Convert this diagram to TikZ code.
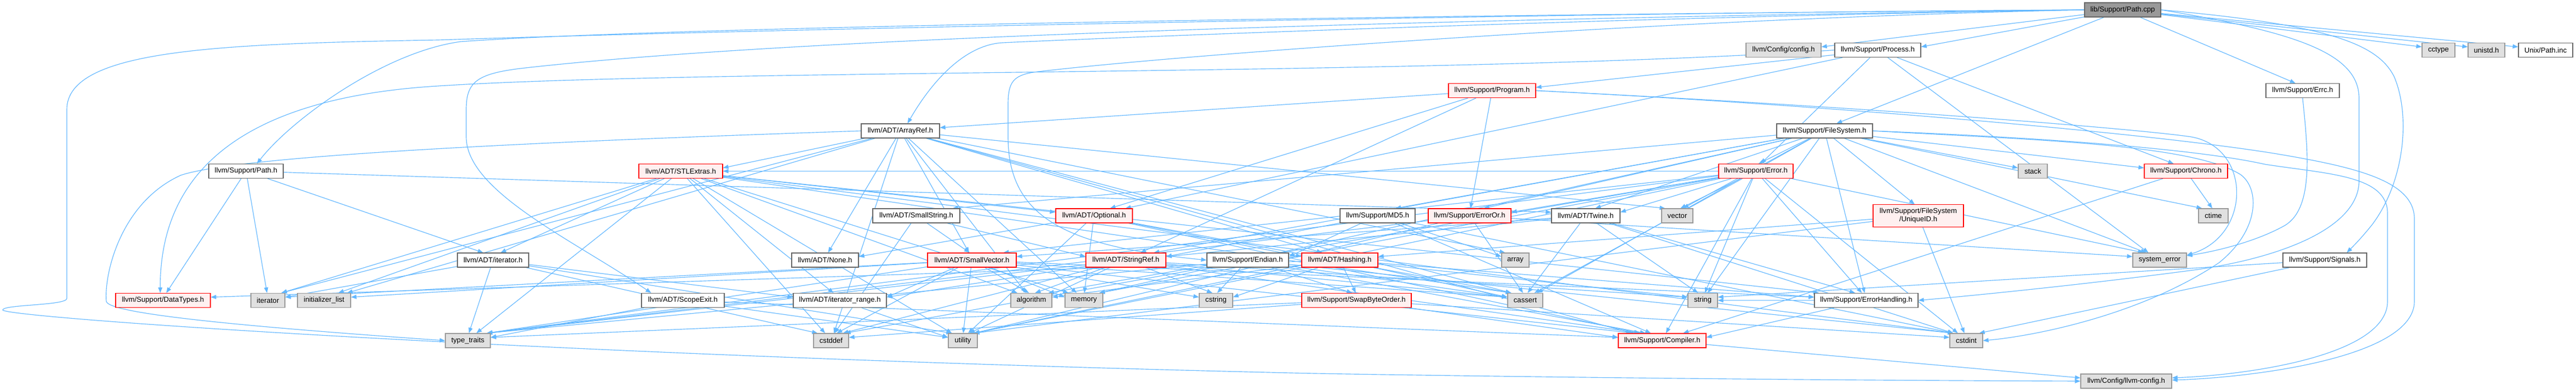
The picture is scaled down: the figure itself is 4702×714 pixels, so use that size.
\documentclass[tikz,border=0pt]{standalone}
\usepackage{fontspec}
\setmainfont{Liberation Sans}
\usetikzlibrary{arrows.meta,calc}
\pgfdeclarelayer{bg}
\pgfsetlayers{bg,main}
\definecolor{eblue}{HTML}{63B8FF}
\definecolor{rpink}{HTML}{FFF0F0}
\definecolor{gfill}{HTML}{E0E0E0}
\definecolor{gbord}{HTML}{999999}
\definecolor{wbord}{HTML}{666666}
\definecolor{rootfill}{HTML}{999999}
\definecolor{rbord}{HTML}{FF0000}
\newcommand\nodefont{\fontsize{13.1}{15}\selectfont}
\tikzset{
  box/.style={draw, rectangle, minimum height=26pt, inner sep=0pt, line width=1.2pt, font=\nodefont, text=black, align=center},
  wbox/.style={box, draw=wbord, fill=white},
  rbox/.style={box, draw=rbord, fill=rpink},
  gbox/.style={box, draw=gbord, fill=gfill},
  rootbox/.style={box, draw=wbord, fill=rootfill},
  edge/.style={draw=eblue, line width=1.15pt, -{Triangle[length=10pt,width=7.5pt]}},
}
% straight connector: enters the target's top edge (spread by direction),
% or its side when the source is far to the side
\newcommand\edg[2]{\draw[edge] let \p1=(#1.center), \p2=(#2.center), \p3=(#2.north east),
  \n1={\x1-\x2}, \n2={\y1-\y2}, \n3={\x3-\x2}, \n4={\y3-\y2},
  \n7={or(and(\n2<90pt, abs(\n1)>\n3+150pt), abs(\n1)-\n3>12*\n2)},
  \n5={\n7 ? (\n1>0 ? \x2+\n3 : \x2-\n3) : \x2+max(min(0.04*\n1,\n3-7pt),7pt-\n3)},
  \n6={\n7 ? \y2+max(min(0.08*\n2,\n4-4pt),4pt-\n4) : \y3}
  in (#1) -- (\n5+0pt,\n6+0pt);}
\begin{document}
\begin{tikzpicture}[x=1pt,y=-1pt]
\useasboundingbox (0,0) rectangle (4702,714);
% row 0
\node[rootbox, minimum width=139pt] (cpp) at (3874.5,18) {lib/Support/Path.cpp};
% row 1
\node[gbox, minimum width=137pt] (config) at (3255.5,91.5) {llvm/Config/config.h};
\node[wbox, minimum width=157pt] (process) at (3427.5,91.5) {llvm/Support/Process.h};
\node[gbox, minimum width=60pt] (cctype) at (4451,91.5) {cctype};
\node[gbox, minimum width=67pt] (unistd) at (4538.5,91.5) {unistd.h};
\node[wbox, minimum width=99pt] (pathinc) at (4646.5,91.5) {Unix/Path.inc};
% row 2
\node[rbox, minimum width=159pt] (program) at (2723.5,165.5) {llvm/Support/Program.h};
\node[wbox, minimum width=134pt] (errc) at (4203,165.5) {llvm/Support/Errc.h};
% row 3
\node[wbox, minimum width=143pt] (arrayref) at (1643.5,239) {llvm/ADT/ArrayRef.h};
\node[wbox, minimum width=175pt] (filesystem) at (3330.5,239) {llvm/Support/FileSystem.h};
% row 4
\node[wbox, minimum width=136pt] (pathh) at (449,312.5) {llvm/Support/Path.h};
\node[rbox, minimum width=153pt] (stlextras) at (1242.5,312.5) {llvm/ADT/STLExtras.h};
\node[rbox, minimum width=136pt] (error) at (3205,312.5) {llvm/Support/Error.h};
\node[gbox, minimum width=53pt] (stack) at (3710.5,312.5) {stack};
\node[rbox, minimum width=152pt] (chrono) at (3990,312.5) {llvm/Support/Chrono.h};
% row 5
\node[wbox, minimum width=159pt] (smallstring) at (1672.5,394) {llvm/ADT/SmallString.h};
\node[rbox, minimum width=140pt] (optional) at (1997,394) {llvm/ADT/Optional.h};
\node[wbox, minimum width=137pt] (md5) at (2514.5,394) {llvm/Support/MD5.h};
\node[rbox, minimum width=151pt] (erroror) at (2682.5,394) {llvm/Support/ErrorOr.h};
\node[wbox, minimum width=125pt] (twine) at (2894.5,394) {llvm/ADT/Twine.h};
\node[gbox, minimum width=57pt] (vector) at (3061.5,394) {vector};
\node[rbox, minimum width=165pt, minimum height=41pt] (uniqueid) at (3501.5,394) {llvm/Support/FileSystem\\/UniqueID.h};
\node[gbox, minimum width=54pt] (ctime) at (4040,394) {ctime};
% row 6
\node[wbox, minimum width=130pt] (iteratorh) at (900,475) {llvm/ADT/iterator.h};
\node[wbox, minimum width=122pt] (none) at (1506,475) {llvm/ADT/None.h};
\node[rbox, minimum width=162pt] (smallvector) at (1774,475) {llvm/ADT/SmallVector.h};
\node[rbox, minimum width=146pt] (stringref) at (2055,475) {llvm/ADT/StringRef.h};
\node[wbox, minimum width=149pt] (endian) at (2277.5,475) {llvm/Support/Endian.h};
\node[rbox, minimum width=139pt] (hashing) at (2445.5,475) {llvm/ADT/Hashing.h};
\node[gbox, minimum width=50pt] (array) at (2766,475) {array};
\node[gbox, minimum width=98pt] (syserr) at (3942,475) {system\_error};
\node[wbox, minimum width=153pt] (signals) at (4243.5,475) {llvm/Support/Signals.h};
% row 7
\node[rbox, minimum width=173pt] (datatypes) at (297.5,548.5) {llvm/Support/DataTypes.h};
\node[gbox, minimum width=62pt] (iterator) at (489,548.5) {iterator};
\node[gbox, minimum width=97pt] (initlist) at (591.5,548.5) {initializer\_list};
\node[wbox, minimum width=151pt] (scopeexit) at (1246.5,548.5) {llvm/ADT/ScopeExit.h};
\node[wbox, minimum width=170pt] (itrange) at (1533,548.5) {llvm/ADT/iterator\_range.h};
\node[gbox, minimum width=75pt] (algorithm) at (1882.5,548.5) {algorithm};
\node[gbox, minimum width=69pt] (memory) at (1978.5,548.5) {memory};
\node[gbox, minimum width=61pt] (cstring) at (2219.5,548.5) {cstring};
\node[rbox, minimum width=200pt] (swapbyte) at (2476,548.5) {llvm/Support/SwapByteOrder.h};
\node[gbox, minimum width=64pt] (cassert) at (2784,548.5) {cassert};
\node[gbox, minimum width=54pt] (string) at (3108,548.5) {string};
\node[wbox, minimum width=189pt] (errhandling) at (3406.5,548.5) {llvm/Support/ErrorHandling.h};
% row 8
\node[gbox, minimum width=82pt] (typetraits) at (854,622) {type\_traits};
\node[gbox, minimum width=64pt] (cstddef) at (1517,622) {cstddef};
\node[gbox, minimum width=53pt] (utility) at (1757.5,622) {utility};
\node[rbox, minimum width=160pt] (compiler) at (3034,622) {llvm/Support/Compiler.h};
\node[gbox, minimum width=60pt] (cstdint) at (3589,622) {cstdint};
% row 9
\node[gbox, minimum width=166pt] (llvmconfig) at (3881,696) {llvm/Config/llvm-config.h};

\begin{pgfonlayer}{bg}
\fill[white] (0,0) rectangle (4702,714);
% ---- Path.cpp
\foreach \t in {config,process,filesystem,cctype,unistd,pathinc,errc} \edg{cpp}{\t};
\draw[edge] (cpp.west) .. controls (3000,22) and (1500,50) .. (800,73) .. controls (400,80) and (122,90) .. (122,200) -- (122,545) .. controls (122,558) and (5,556) .. (5,566) .. controls (5,580) and (1000,650) .. (2400,682) .. controls (3000,692) and (3500,695) .. (llvmconfig.west);
\draw[edge] (cpp.west) .. controls (2500,28) and (1200,50) .. (841,76) .. controls (700,95) and (530,220) .. ([xshift=20pt]pathh.north);
\draw[edge] (cpp.west) .. controls (3000,30) and (2000,70) .. (1830,78) .. controls (1760,82) and (1700,150) .. ([xshift=13pt]arrayref.north);
\draw[edge] (cpp.west) .. controls (2800,32) and (1500,62) .. (950,125) .. controls (870,135) and (851,150) .. (851,200) -- (851,250) .. controls (851,350) and (1050,440) .. ([xshift=-58pt]scopeexit.north);
\draw[edge] (cpp.west) .. controls (3000,35) and (2100,105) .. (1886,132) .. controls (1850,138) and (1840,150) .. (1840,190) -- (1840,250) .. controls (1840,400) and (1950,450) .. (endian.west);
\draw[edge] (cpp.east) .. controls (4200,60) and (4306,100) .. (4306,180) -- (4306,330) .. controls (4306,420) and (4150,475) .. (3990,495) .. controls (3800,520) and (3600,540) .. (errhandling.east);
\draw[edge] (cpp.east) .. controls (4250,45) and (4340,80) .. (4370,140) .. controls (4400,210) and (4390,330) .. (4330,410) .. controls (4310,435) and (4295,450) .. ([xshift=40pt]signals.north);
% ---- Errc
\draw[edge] (errc.south) .. controls (4212,270) and (4225,380) .. (4170,412) .. controls (4120,440) and (4050,458) .. ([yshift=8pt]syserr.east);
% ---- Path.h
\foreach \t in {twine,iteratorh,datatypes,iterator} \edg{pathh}{\t};
% ---- ArrayRef
\foreach \t in {hashing,none,stlextras,smallvector,compiler,algorithm,array,cassert,cstddef,initlist,iterator,memory,vector} \edg{arrayref}{\t};
\draw[edge] (arrayref.west) .. controls (1100,255) and (450,280) .. (330,320) .. controls (220,370) and (190,500) .. (194,550) .. controls (196,575) and (500,600) .. (typetraits.west);
% ---- ScopeExit
\foreach \t in {compiler,typetraits,utility} \edg{scopeexit}{\t};
% ---- Endian
\foreach \t in {compiler,swapbyte,cassert,cstddef,cstdint,cstring,typetraits} \edg{endian}{\t};
% ---- ErrorHandling
\foreach \t in {compiler,string} \edg{errhandling}{\t};
% ---- FileSystem
\foreach \t in {smallstring,stringref,twine,chrono,error,errhandling,erroror,uniqueid,md5,cassert,ctime,memory,stack,string,syserr,vector} \edg{filesystem}{\t};
\draw[edge] (filesystem.east) .. controls (3700,250) and (4000,270) .. (4134,300) .. controls (4250,318) and (4358,320) .. (4358,390) -- (4358,550) .. controls (4358,650) and (4100,685) .. ([yshift=6pt]llvmconfig.east);
\draw[edge] (filesystem.east) .. controls (3700,255) and (4000,262) .. (4090,319) .. controls (4125,345) and (4125,420) .. (4050,480) .. controls (3900,580) and (3700,615) .. (cstdint.east);
% ---- Process
\foreach \t in {optional,chrono,error,program,syserr} \edg{process}{\t};
\draw[edge] (process.west) .. controls (2600,140) and (1300,125) .. (800,157) .. controls (420,180) and (292,330) .. ([xshift=-5pt]datatypes.north);
% ---- Program
\foreach \t in {arrayref,optional,stringref,erroror} \edg{program}{\t};
\draw[edge] (program.east) .. controls (3300,190) and (3900,240) .. (4150,280) .. controls (4300,305) and (4407,330) .. (4407,400) -- (4407,550) .. controls (4407,655) and (4100,690) .. ([yshift=2pt]llvmconfig.east);
\draw[edge] (program.east) .. controls (3400,195) and (3900,235) .. (4000,250) .. controls (4110,270) and (4110,430) .. ([yshift=9pt]syserr.east);
% ---- Signals
\foreach \t in {cstdint,string} \edg{signals}{\t};
% ---- iterator.h
\foreach \t in {itrange,cstddef,iterator,typetraits,utility} \edg{iteratorh}{\t};
% ---- iterator_range
\edg{itrange}{utility};
% ---- SmallString
\foreach \t in {smallvector,stringref,cstddef} \edg{smallstring}{\t};
% ---- MD5
\foreach \t in {stringref,compiler,endian,array,cstdint} \edg{md5}{\t};
% ---- Twine
\foreach \t in {smallvector,stringref,errhandling,cassert,cstdint,string} \edg{twine}{\t};
% ---- STLExtras
\foreach \t in {optional,iteratorh,itrange,errhandling,algorithm,cassert,cstddef,cstdint,initlist,iterator,memory,typetraits,utility} \edg{stlextras}{\t};
% ---- Optional
\foreach \t in {hashing,none,compiler,cassert,memory,utility} \edg{optional}{\t};
% ---- SmallVector
\foreach \t in {itrange,compiler,errhandling,algorithm,cassert,cstddef,cstring,initlist,iterator,memory,typetraits,utility} \edg{smallvector}{\t};
% ---- StringRef
\foreach \t in {itrange,compiler,algorithm,cassert,cstddef,cstring,string,typetraits,utility} \edg{stringref}{\t};
% ---- Hashing
\foreach \t in {datatypes,errhandling,swapbyte,algorithm,cassert,cstring,string,utility} \edg{hashing}{\t};
% ---- SwapByteOrder
\foreach \t in {compiler,cstddef,cstdint,typetraits} \edg{swapbyte}{\t};
% ---- Compiler
\edg{compiler}{llvmconfig};
% ---- ErrorOr
\foreach \t in {cassert,syserr,typetraits,utility} \edg{erroror}{\t};
% ---- Error
\foreach \t in {stlextras,smallvector,twine,compiler,errhandling,erroror,algorithm,cassert,cstdint,memory,string,syserr,typetraits,utility,vector} \edg{error}{\t};
% ---- Chrono
\foreach \t in {compiler,ctime} \edg{chrono}{\t};
% ---- UniqueID
\foreach \t in {hashing,cstdint,utility} \edg{uniqueid}{\t};
\end{pgfonlayer}
\end{tikzpicture}
\end{document}
